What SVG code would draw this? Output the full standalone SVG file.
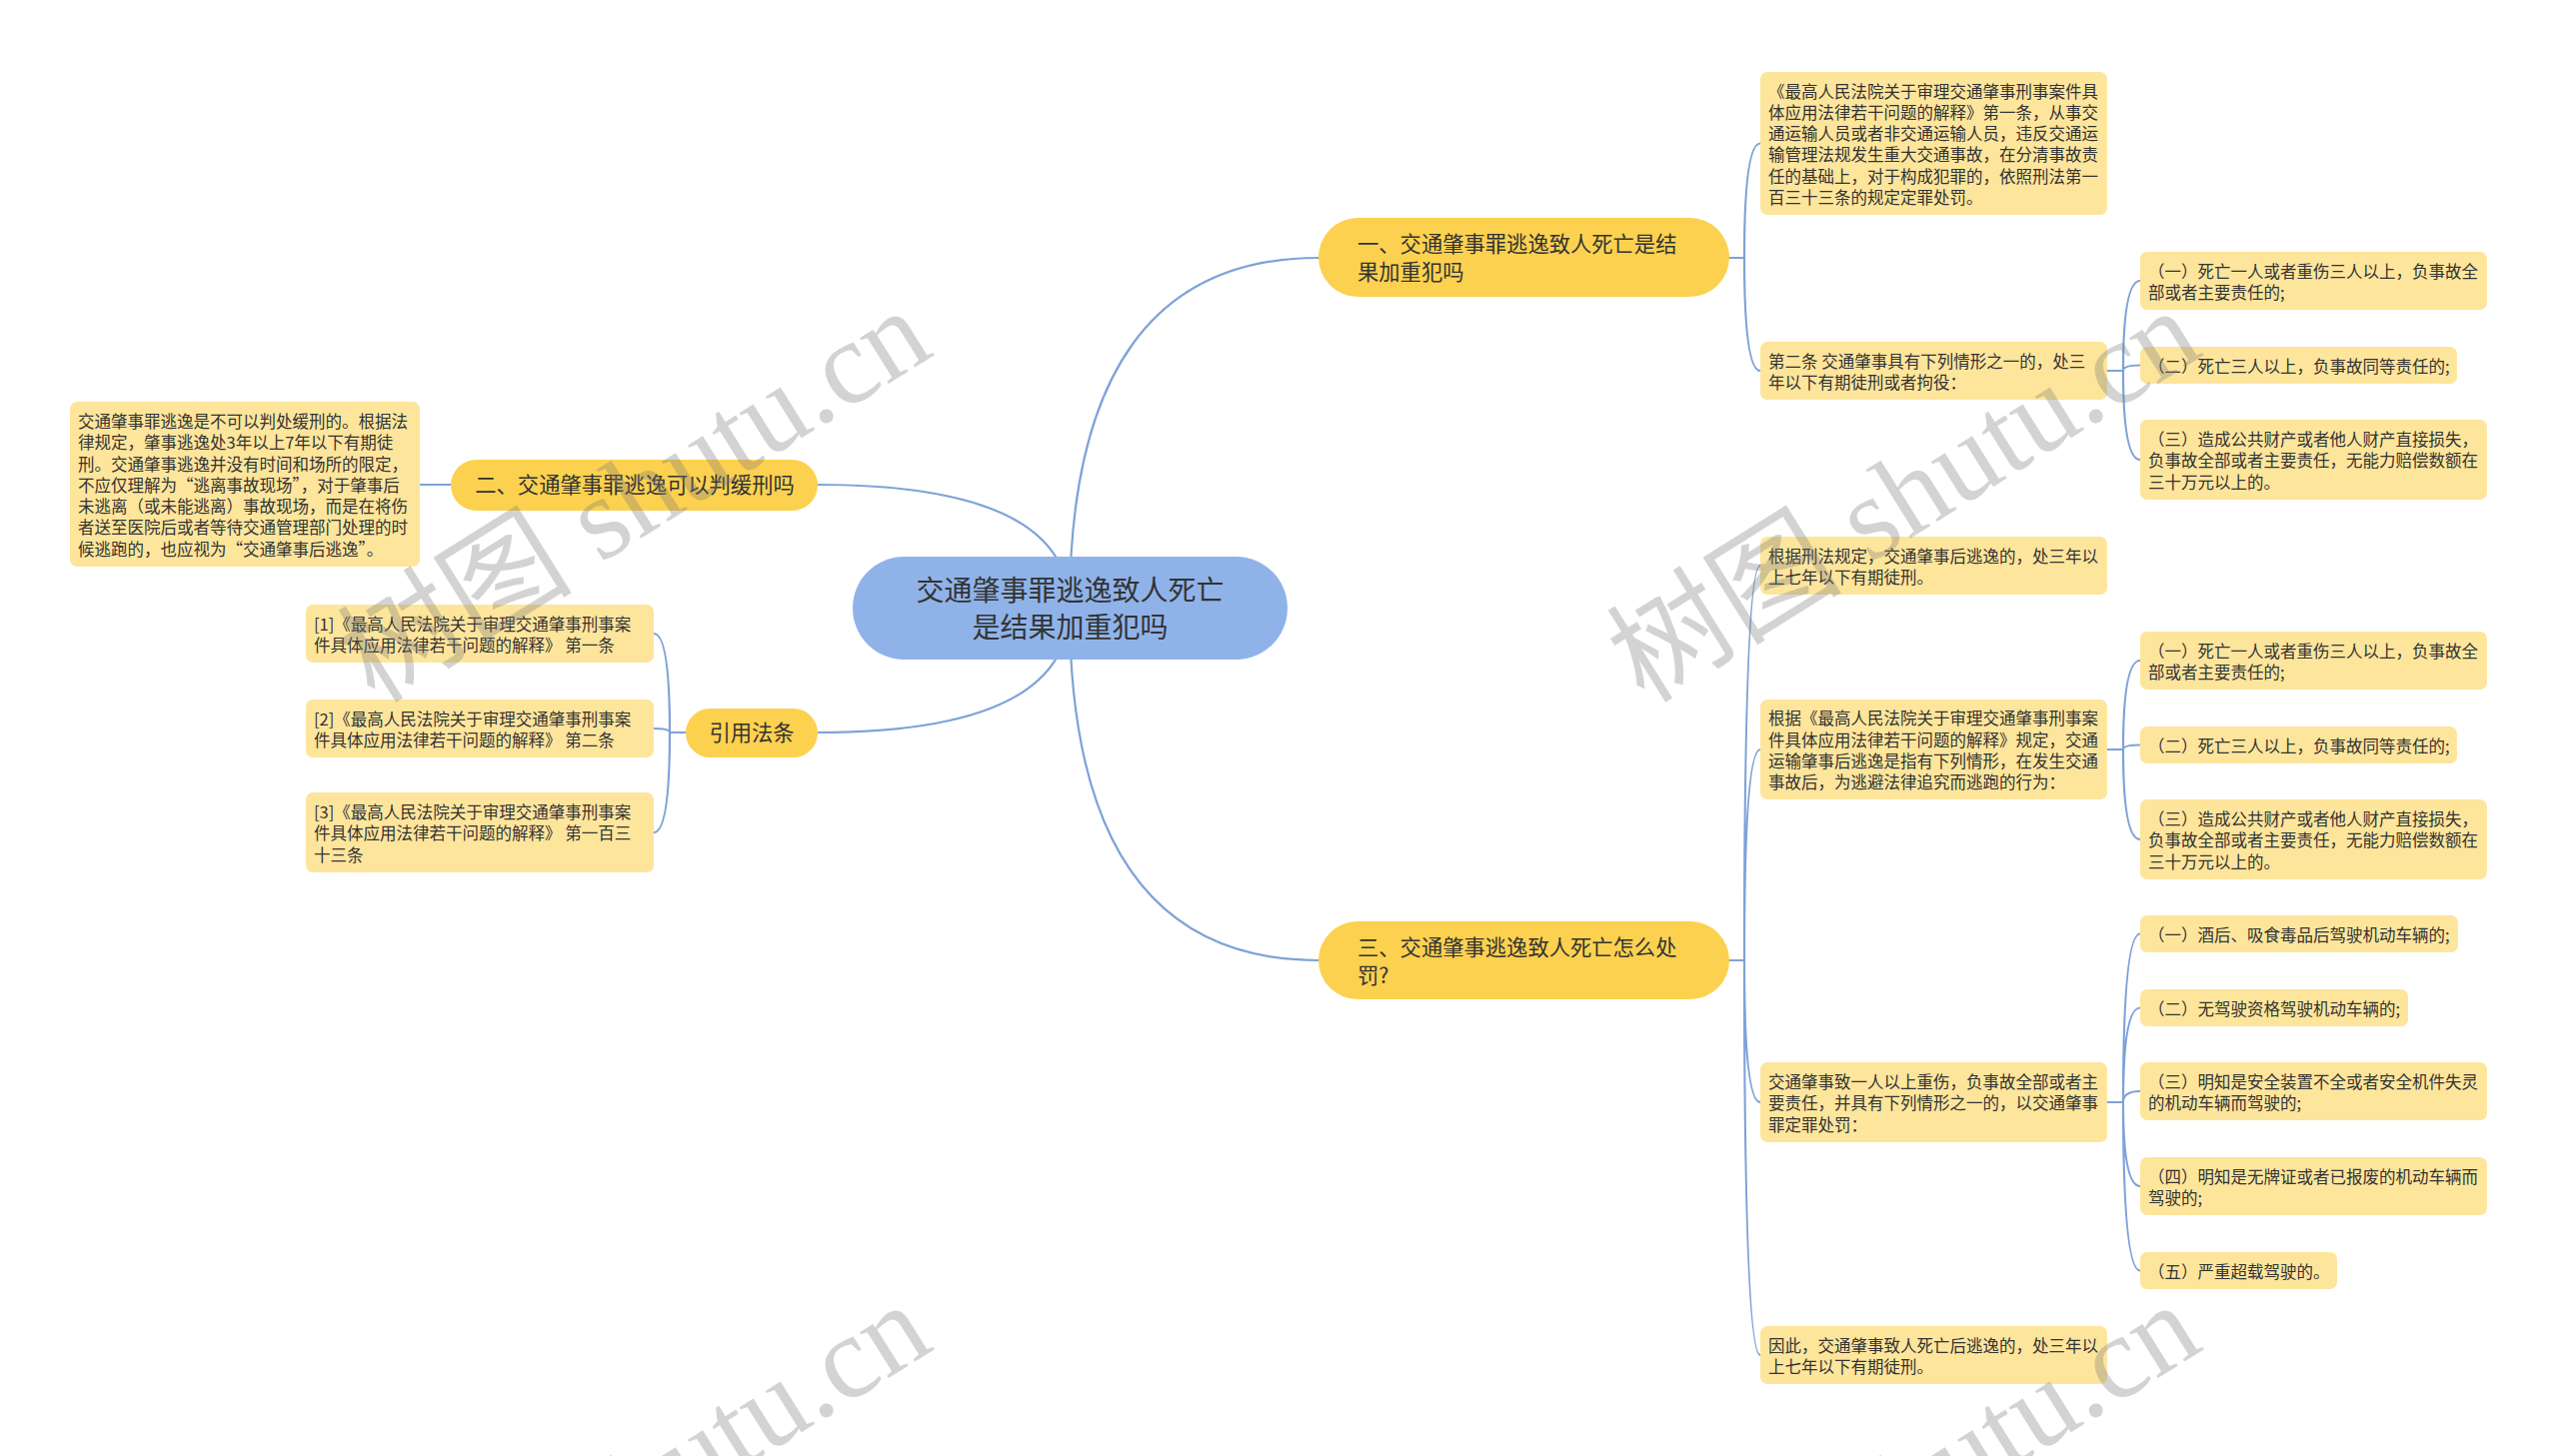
<svg xmlns="http://www.w3.org/2000/svg" width="2560" height="1457" viewBox="0 0 2560 1457">
<style>
.bg{fill:#ffffff}
.root{fill:#8fb3e9}
.main{fill:#fcd14f}
.box{fill:#fde59c}
.t{font-family:"Noto Sans CJK SC","Noto Sans",sans-serif;fill:#333333}
.tr{font-size:28px}
.tm{font-size:21.3px}
.tb{font-size:16.5px}
.c{fill:none;stroke:#7fa2d8;stroke-width:2.2;stroke-linecap:round}
.wm{font-family:"Liberation Serif","Noto Sans CJK SC",serif;font-size:118px;fill:#7a7a7a;opacity:0.32}
</style>
<rect class="bg" x="0" y="0" width="2560" height="1457"/>
<g id="connectors">
<path class="c" d="M1070 608 Q1070 258 1319 258"/>
<path class="c" d="M1070 608 Q1070 961 1319 961"/>
<path class="c" d="M1070 608 Q1070 485 818 485"/>
<path class="c" d="M1070 608 Q1070 733 818 733"/>
<path class="c" d="M1730 258 H1745 M1745 258 Q1745 143.5 1761 143.5 M1745 258 Q1745 371 1761 371"/>
<path class="c" d="M2108 371 H2124 M2124 371 Q2124 281 2141 281 M2124 371 Q2124 365.5 2141 365.5 M2124 371 Q2124 460 2141 460"/>
<path class="c" d="M1730 961 H1745 M1745 961 Q1745 566 1761 566 M1745 961 Q1745 750 1761 750 M1745 961 Q1745 1103 1761 1103 M1745 961 Q1745 1356 1761 1356"/>
<path class="c" d="M2108 750 H2124 M2124 750 Q2124 661 2141 661 M2124 750 Q2124 745.5 2141 745.5 M2124 750 Q2124 840 2141 840"/>
<path class="c" d="M2108 1103 H2124 M2124 1103 Q2124 934.5 2141 934.5 M2124 1103 Q2124 1008.5 2141 1008.5 M2124 1103 Q2124 1092 2141 1092 M2124 1103 Q2124 1187 2141 1187 M2124 1103 Q2124 1271.5 2141 1271.5"/>
<path class="c" d="M451 485 H420"/>
<path class="c" d="M686 733 H670 M670 733 Q670 634 654 634 M670 733 Q670 729 654 729 M670 733 Q670 833 654 833"/>
</g>
<g id="root">
<rect class="root" x="853" y="557" width="435" height="103" rx="51.5"/>
<text class="t tr" x="1070.5" y="600.5" text-anchor="middle">交通肇事罪逃逸致人死亡</text>
<text class="t tr" x="1070.5" y="637.5" text-anchor="middle">是结果加重犯吗</text>
</g>
<g id="n1">
<rect class="main" x="1319" y="218" width="411" height="79" rx="39.5"/>
<text class="t tm" x="1358" y="252">一、交通肇事罪逃逸致人死亡是结</text>
<text class="t tm" x="1358" y="280">果加重犯吗</text>
</g>
<g id="n2">
<rect class="main" x="451" y="460" width="367" height="51" rx="25.5"/>
<text class="t tm" x="635" y="493" text-anchor="middle">二、交通肇事罪逃逸可以判缓刑吗</text>
</g>
<g id="n3">
<rect class="main" x="1319" y="922" width="411" height="78" rx="39"/>
<text class="t tm" x="1358" y="955.5">三、交通肇事逃逸致人死亡怎么处</text>
<text class="t tm" x="1358" y="984">罚?</text>
</g>
<g id="n4">
<rect class="main" x="686" y="709" width="132" height="49" rx="24.5"/>
<text class="t tm" x="752" y="741" text-anchor="middle">引用法条</text>
</g>
<g id="left">
<rect class="box" x="70" y="402" width="350" height="165" rx="7"/>
<text class="t tb" x="78" y="427.9">交通肇事罪逃逸是不可以判处缓刑的。根据法</text>
<text class="t tb" x="78" y="449.2">律规定，肇事逃逸处3年以上7年以下有期徒</text>
<text class="t tb" x="78" y="470.5">刑。交通肇事逃逸并没有时间和场所的限定，</text>
<text class="t tb" x="78" y="491.8">不应仅理解为“逃离事故现场”，对于肇事后</text>
<text class="t tb" x="78" y="513.1">未逃离（或未能逃离）事故现场，而是在将伤</text>
<text class="t tb" x="78" y="534.4">者送至医院后或者等待交通管理部门处理的时</text>
<text class="t tb" x="78" y="555.7">候逃跑的，也应视为“交通肇事后逃逸”。</text>
</g>
<g id="cite1">
<rect class="box" x="306" y="605" width="348" height="58" rx="7"/>
<text class="t tb" x="314" y="630.7">[1]《最高人民法院关于审理交通肇事刑事案</text>
<text class="t tb" x="314" y="652">件具体应用法律若干问题的解释》 第一条</text>
</g>
<g id="cite2">
<rect class="box" x="306" y="700" width="348" height="58" rx="7"/>
<text class="t tb" x="314" y="725.7">[2]《最高人民法院关于审理交通肇事刑事案</text>
<text class="t tb" x="314" y="747">件具体应用法律若干问题的解释》 第二条</text>
</g>
<g id="cite3">
<rect class="box" x="306" y="793" width="348" height="80" rx="7"/>
<text class="t tb" x="314" y="819">[3]《最高人民法院关于审理交通肇事刑事案</text>
<text class="t tb" x="314" y="840.3">件具体应用法律若干问题的解释》 第一百三</text>
<text class="t tb" x="314" y="861.6">十三条</text>
</g>
<g id="a1">
<rect class="box" x="1761" y="72" width="347" height="143" rx="7"/>
<text class="t tb" x="1769" y="97.5">《最高人民法院关于审理交通肇事刑事案件具</text>
<text class="t tb" x="1769" y="118.8">体应用法律若干问题的解释》第一条，从事交</text>
<text class="t tb" x="1769" y="140.1">通运输人员或者非交通运输人员，违反交通运</text>
<text class="t tb" x="1769" y="161.4">输管理法规发生重大交通事故，在分清事故责</text>
<text class="t tb" x="1769" y="182.7">任的基础上，对于构成犯罪的，依照刑法第一</text>
<text class="t tb" x="1769" y="204">百三十三条的规定定罪处罚。</text>
</g>
<g id="a2">
<rect class="box" x="1761" y="342" width="347" height="58" rx="7"/>
<text class="t tb" x="1769" y="367.7">第二条 交通肇事具有下列情形之一的，处三</text>
<text class="t tb" x="1769" y="389">年以下有期徒刑或者拘役：</text>
</g>
<g id="c1">
<rect class="box" x="2141" y="252" width="347" height="58" rx="7"/>
<text class="t tb" x="2149" y="277.7">（一）死亡一人或者重伤三人以上，负事故全</text>
<text class="t tb" x="2149" y="299">部或者主要责任的;</text>
</g>
<g id="c2">
<rect class="box" x="2141" y="347" width="317" height="37" rx="7"/>
<text class="t tb" x="2149" y="372.8">（二）死亡三人以上，负事故同等责任的;</text>
</g>
<g id="c3">
<rect class="box" x="2141" y="420" width="347" height="80" rx="7"/>
<text class="t tb" x="2149" y="446">（三）造成公共财产或者他人财产直接损失，</text>
<text class="t tb" x="2149" y="467.3">负事故全部或者主要责任，无能力赔偿数额在</text>
<text class="t tb" x="2149" y="488.6">三十万元以上的。</text>
</g>
<g id="b1">
<rect class="box" x="1761" y="537" width="347" height="58" rx="7"/>
<text class="t tb" x="1769" y="562.7">根据刑法规定，交通肇事后逃逸的，处三年以</text>
<text class="t tb" x="1769" y="584">上七年以下有期徒刑。</text>
</g>
<g id="b2">
<rect class="box" x="1761" y="700" width="347" height="100" rx="7"/>
<text class="t tb" x="1769" y="725.4">根据《最高人民法院关于审理交通肇事刑事案</text>
<text class="t tb" x="1769" y="746.7">件具体应用法律若干问题的解释》规定，交通</text>
<text class="t tb" x="1769" y="768">运输肇事后逃逸是指有下列情形，在发生交通</text>
<text class="t tb" x="1769" y="789.3">事故后，为逃避法律追究而逃跑的行为：</text>
</g>
<g id="d1">
<rect class="box" x="2141" y="632" width="347" height="58" rx="7"/>
<text class="t tb" x="2149" y="657.7">（一）死亡一人或者重伤三人以上，负事故全</text>
<text class="t tb" x="2149" y="679">部或者主要责任的;</text>
</g>
<g id="d2">
<rect class="box" x="2141" y="727" width="317" height="37" rx="7"/>
<text class="t tb" x="2149" y="752.8">（二）死亡三人以上，负事故同等责任的;</text>
</g>
<g id="d3">
<rect class="box" x="2141" y="800" width="347" height="80" rx="7"/>
<text class="t tb" x="2149" y="826">（三）造成公共财产或者他人财产直接损失，</text>
<text class="t tb" x="2149" y="847.3">负事故全部或者主要责任，无能力赔偿数额在</text>
<text class="t tb" x="2149" y="868.6">三十万元以上的。</text>
</g>
<g id="b3">
<rect class="box" x="1761" y="1063" width="347" height="80" rx="7"/>
<text class="t tb" x="1769" y="1089">交通肇事致一人以上重伤，负事故全部或者主</text>
<text class="t tb" x="1769" y="1110.3">要责任，并具有下列情形之一的，以交通肇事</text>
<text class="t tb" x="1769" y="1131.6">罪定罪处罚：</text>
</g>
<g id="e1">
<rect class="box" x="2141" y="916" width="318" height="37" rx="7"/>
<text class="t tb" x="2149" y="941.8">（一）酒后、吸食毒品后驾驶机动车辆的;</text>
</g>
<g id="e2">
<rect class="box" x="2141" y="990" width="268" height="37" rx="7"/>
<text class="t tb" x="2149" y="1015.8">（二）无驾驶资格驾驶机动车辆的;</text>
</g>
<g id="e3">
<rect class="box" x="2141" y="1063" width="347" height="58" rx="7"/>
<text class="t tb" x="2149" y="1088.7">（三）明知是安全装置不全或者安全机件失灵</text>
<text class="t tb" x="2149" y="1110">的机动车辆而驾驶的;</text>
</g>
<g id="e4">
<rect class="box" x="2141" y="1158" width="347" height="58" rx="7"/>
<text class="t tb" x="2149" y="1183.7">（四）明知是无牌证或者已报废的机动车辆而</text>
<text class="t tb" x="2149" y="1205">驾驶的;</text>
</g>
<g id="e5">
<rect class="box" x="2141" y="1253" width="197" height="37" rx="7"/>
<text class="t tb" x="2149" y="1278.8">（五）严重超载驾驶的。</text>
</g>
<g id="b4">
<rect class="box" x="1761" y="1327" width="347" height="58" rx="7"/>
<text class="t tb" x="1769" y="1352.7">因此，交通肇事致人死亡后逃逸的，处三年以</text>
<text class="t tb" x="1769" y="1374">上七年以下有期徒刑。</text>
</g>
<g id="watermarks">
<text class="wm" transform="translate(375 705) rotate(-32)">树图 shutu.cn</text>
<text class="wm" transform="translate(1645 705) rotate(-32)">树图 shutu.cn</text>
<text class="wm" transform="translate(375 1700) rotate(-32)">树图 shutu.cn</text>
<text class="wm" transform="translate(1645 1700) rotate(-32)">树图 shutu.cn</text>
</g>
</svg>
